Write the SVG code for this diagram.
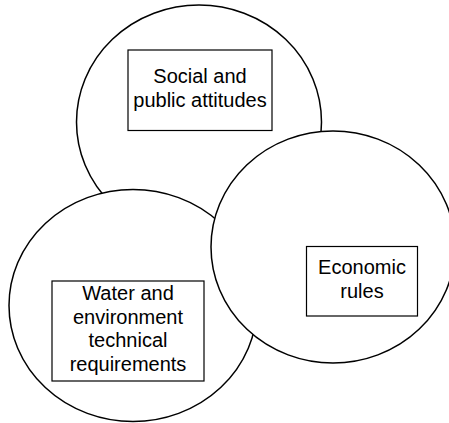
<svg xmlns="http://www.w3.org/2000/svg" width="449" height="423" viewBox="0 0 449 423">
<style>
.c{fill:#fff;stroke:#000;stroke-width:1.5}
.b{fill:#fff;stroke:#000;stroke-width:1.2}
.t{font-family:"Liberation Sans",Arial,sans-serif;font-size:20px;fill:#000;text-anchor:middle}
</style>
<rect width="449" height="423" fill="#fff"/>
<g id="top">
<ellipse class="c" cx="199" cy="122" rx="122.5" ry="117"/>
<rect class="b" x="128" y="50" width="144" height="80.5"/>
<text class="t" x="200" y="82.5">Social and</text>
<text class="t" x="200" y="106.5">public attitudes</text>
</g>
<g id="left">
<ellipse class="c" cx="133" cy="305.5" rx="124" ry="116"/>
<rect class="b" x="52" y="281" width="152" height="100"/>
<text class="t" x="128" y="300">Water and</text>
<text class="t" x="128" y="323.7">environment</text>
<text class="t" x="128" y="347.4">technical</text>
<text class="t" x="128" y="371">requirements</text>
</g>
<g id="right">
<ellipse class="c" cx="333" cy="247" rx="122" ry="116"/>
<rect class="b" x="306.5" y="246.5" width="111" height="69.5"/>
<text class="t" x="362" y="274">Economic</text>
<text class="t" x="362" y="297.5">rules</text>
</g>
<g id="connectors"/>
</svg>
